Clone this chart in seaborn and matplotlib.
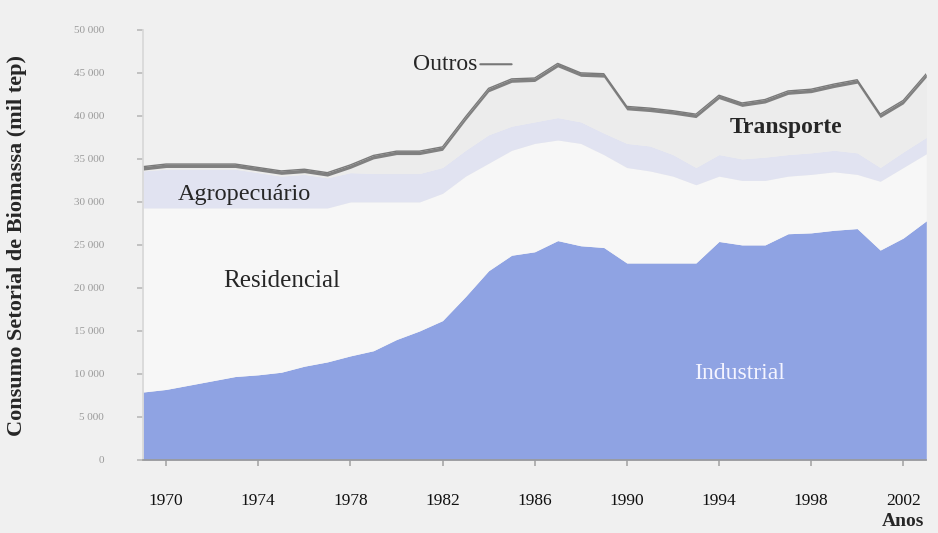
import numpy as np
import pandas as pd
import matplotlib
matplotlib.use('Agg')
import matplotlib.pyplot as plt
import seaborn as sns

anos = list(range(1969, 2004))
industrial = [7900, 8200, 8700, 9200, 9700, 9900, 10200, 10900, 11400, 12100,
              12700, 14000, 15000, 16200, 19000, 22000, 23800, 24200, 25500, 24900,
              24700, 22900, 22900, 22900, 22900, 25400, 25000, 25000, 26300, 26400,
              26700, 26900, 24400, 25800, 27800]
residencial = [21400, 21100, 20600, 20100, 19600, 19400, 19100, 18400, 17900, 17900,
               17300, 16000, 15000, 14800, 14000, 12500, 12200, 12600, 11700, 11900,
               10800, 11100, 10700, 10100, 9100, 7600, 7500, 7500, 6700, 6800,
               6800, 6300, 8000, 8200, 7800]
agropecuario = [4300, 4500, 4500, 4500, 4500, 4100, 3700, 3900, 3500, 3400,
                3300, 3300, 3300, 3000, 3000, 3300, 2800, 2500, 2600, 2500,
                2500, 2800, 2900, 2500, 2000, 2500, 2500, 2700, 2500, 2500,
                2500, 2500, 1600, 1800, 1900]
transporte = [100, 200, 200, 200, 200, 200, 200, 200, 200, 500,
              1700, 2200, 2200, 2000, 3500, 5000, 5100, 4700, 5900, 5300,
              6500, 3900, 4000, 4700, 5800, 6500, 6100, 6300, 7000, 7000,
              7300, 8100, 5800, 5600, 7000]
outros = [400] * 35

anos_rotulo = [1970, 1974, 1978, 1982, 1986, 1990, 1994, 1998, 2002]
y_ticks = list(range(0, 50001, 5000))
y_rotulos = ['0'] + [f'{v // 1000} 000' for v in y_ticks[1:]]

df = pd.DataFrame({'Ano': anos, 'Industrial': industrial, 'Residencial': residencial,
                   'Agropecuário': agropecuario, 'Transporte': transporte,
                   'Outros': outros})
df['Total'] = df[['Industrial', 'Residencial', 'Agropecuário', 'Transporte', 'Outros']].sum(axis=1)

sns.set_theme(style='white')
plt.rcParams['font.family'] = ['Liberation Serif', 'DejaVu Serif']

bg = '#f0f0f0'
fig = plt.figure(figsize=(9.38, 5.33), dpi=100, facecolor=bg)
ax = fig.add_axes([0.1525, 0.137, 0.835, 0.807], facecolor=bg)

cores = ['#8fa3e3', '#f7f7f7', '#e1e3f1', '#ececec', '#808080']
ax.stackplot(df['Ano'], df['Industrial'], df['Residencial'], df['Agropecuário'],
             df['Transporte'], df['Outros'], colors=cores, linewidth=0)
sns.lineplot(data=df, x='Ano', y='Total', color='#7a7a7a', linewidth=1.0, ax=ax)

ax.set_xlim(1969, 2003)
ax.set_ylim(0, 50000)
ax.set_xticks(anos_rotulo)
ax.set_xticklabels([str(a) for a in anos_rotulo], fontsize=12.5, color='#111111')
ax.set_yticks(y_ticks)
ax.set_yticklabels(y_rotulos, fontsize=8, color='#9a9a9a')
ax.tick_params(axis='y', length=4, color='#bbbbbb', pad=24, left=True)
ax.tick_params(axis='x', length=4, color='#aaaaaa', pad=20, bottom=True)
ax.set_xlabel('')
ax.set_ylabel('')

sns.despine(ax=ax, top=True, right=True)
ax.spines['left'].set_color('#d8d8d8')
ax.spines['bottom'].set_color('#9a9a9a')

fig.text(0.018, 0.54, 'Consumo Setorial de Biomassa (mil tep)', rotation=90,
         ha='center', va='center', fontsize=16, fontweight='bold')
fig.text(0.985, 0.005, 'Anos', ha='right', va='bottom', fontsize=14, fontweight='bold')

ax.annotate('Outros', xy=(1985.0, 46000), xytext=(1982.1, 46000), fontsize=17,
            ha='center', va='center',
            arrowprops=dict(arrowstyle='-', color='#777777', lw=1.5,
                            shrinkA=34, shrinkB=0))
ax.text(1996.9, 38700, 'Transporte', fontsize=17, fontweight='bold', ha='center', va='center')
ax.text(1973.4, 30900, 'Agropecuário', fontsize=17.5, ha='center', va='center')
ax.text(1975.0, 20800, 'Residencial', fontsize=18, ha='center', va='center')
ax.text(1994.9, 10000, 'Industrial', fontsize=17, ha='center', va='center', color='#f4f4ff')

fig.savefig('out.png', dpi=100, facecolor=bg)
